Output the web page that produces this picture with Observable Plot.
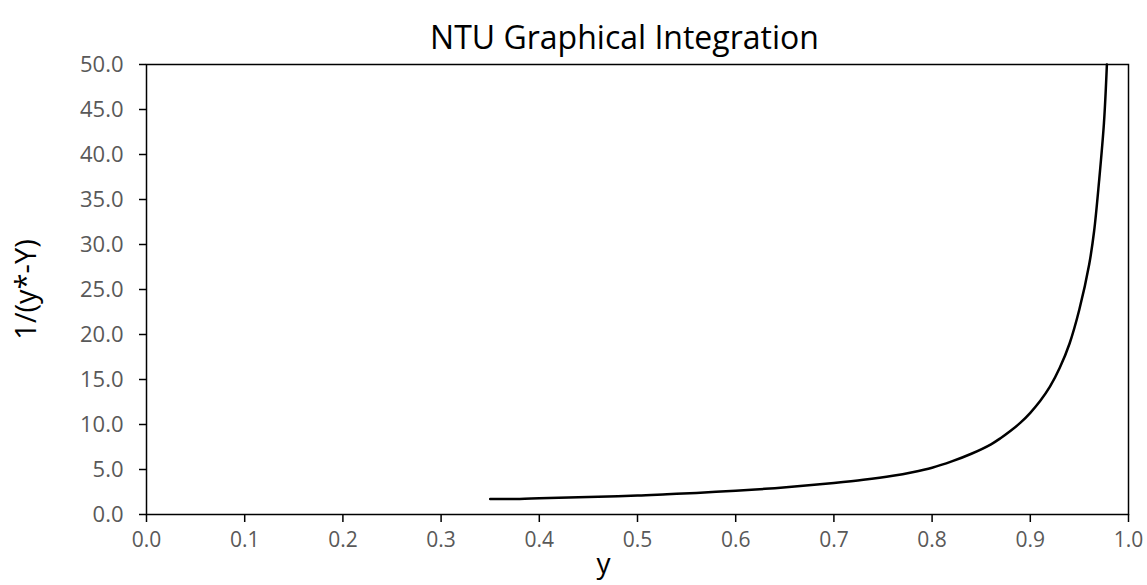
<!DOCTYPE html>
<html><head><meta charset="utf-8">
<script src="https://cdn.jsdelivr.net/npm/d3@7"></script>
<script src="https://cdn.jsdelivr.net/npm/@observablehq/plot@0.6"></script>
<style>body{margin:0;background:#fff;} svg{display:block;}</style>
</head><body><div id="chart"></div>
<script>
const title = "NTU Graphical Integration";
const xLabel = "y";
const yLabel = "1/(y*-Y)";
const xTicks = [0, 0.1, 0.2, 0.3, 0.4, 0.5, 0.6, 0.7, 0.8, 0.9, 1.0];
const yTicks = [0, 5, 10, 15, 20, 25, 30, 35, 40, 45, 50];
const yValues = [0.35, 0.38, 0.40, 0.43, 0.46, 0.50, 0.53, 0.56, 0.60, 0.63, 0.66, 0.70, 0.73, 0.76, 0.78, 0.80, 0.82, 0.84, 0.86, 0.87, 0.88, 0.89, 0.90, 0.91, 0.92, 0.93, 0.94, 0.95, 0.96, 0.965, 0.97, 0.975, 0.978];
const invDriving = [1.72, 1.73, 1.8, 1.88, 1.98, 2.1, 2.25, 2.4, 2.65, 2.85, 3.1, 3.5, 3.85, 4.3, 4.7, 5.2, 5.9, 6.75, 7.8, 8.5, 9.3, 10.2, 11.3, 12.6, 14.2, 16.3, 19.0, 22.8, 27.8, 31.5, 37.0, 43.5, 50.0];

const data = yValues.map((x, i) => ({x, v: invDriving[i]}));
const fmt = d => d.toFixed(1);

const plot = Plot.plot({
  width: 1147, height: 585,
  marginTop: 64, marginBottom: 71, marginLeft: 146, marginRight: 19,
  style: {fontFamily: "'Open Sans', sans-serif", background: "#fff"},
  x: {domain: [0, 1]},
  y: {domain: [0, 50]},
  marks: [
    Plot.axisX({ticks: xTicks, tickFormat: fmt, tickSize: 8, tickPadding: 10, stroke: "#000", strokeWidth: 1.5, fill: "#595959", fontSize: 21, label: null}),
    Plot.axisY({ticks: yTicks, tickFormat: fmt, tickSize: 7, tickPadding: 16, stroke: "#000", strokeWidth: 1.5, fill: "#595959", fontSize: 22, label: null}),
    Plot.frame({stroke: "#000", strokeWidth: 1.5}),
    Plot.line(data, {x: "x", y: "v", stroke: "#000", strokeWidth: 2.5, curve: "catmull-rom"}),
    Plot.text([title], {text: d => d, frameAnchor: "top", dy: -38, dx: -13, fontSize: 32, fill: "#000"}),
    Plot.text([yLabel], {text: d => d, frameAnchor: "left", textAnchor: "middle", dx: -120, rotate: -90, fontSize: 29, fill: "#000"}),
    Plot.text([xLabel], {text: d => d, frameAnchor: "bottom", dy: 58, dx: -34, fontSize: 28, fill: "#000"})
  ]
});
document.getElementById("chart").appendChild(plot);
</script>
</body></html>
